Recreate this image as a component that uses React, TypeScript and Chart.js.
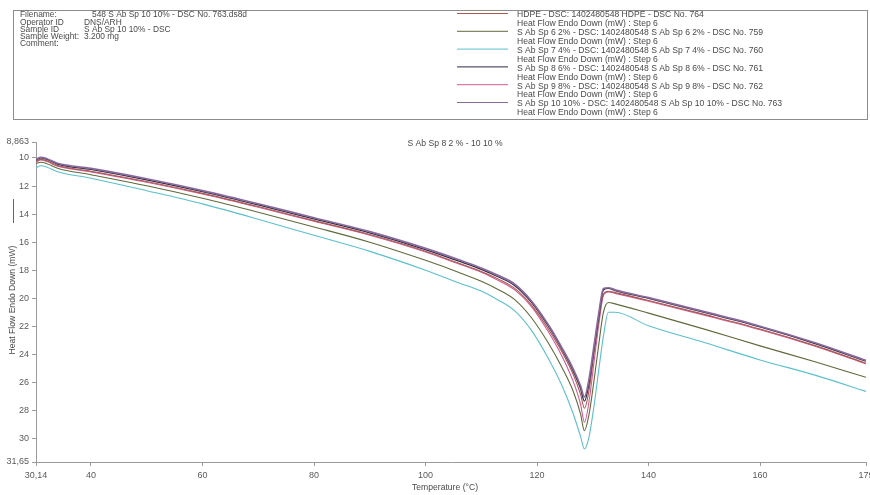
import React, { useEffect, useRef } from "react";
import { Chart, registerables } from "chart.js";

Chart.register(...registerables);

// ---- data (temperature in °C, heat flow in mW) ----
const temperatures = [
  30.14, 31, 32, 34, 40, 50, 60, 70, 80, 90, 100, 106, 110, 113, 116, 119, 122,
  124.5, 126.5, 127.8, 128.5, 129.3, 130.2, 131.1, 131.9, 132.8, 134, 140, 150,
  160, 170, 179,
];

const hdpe = [
  10.25, 10.1, 10.19, 10.53, 10.94, 11.68, 12.52, 13.46, 14.46, 15.45, 16.64,
  17.5, 18.08, 18.61, 19.29, 20.48, 22.16, 23.84, 25.43, 26.82, 27.82, 26.61,
  24.01, 21.5, 19.7, 19.49, 19.59, 20.15, 21.14, 22.18, 23.38, 24.62,
];
const sAbSp6 = [
  10.4, 10.3, 10.39, 10.73, 11.19, 11.98, 12.87, 13.86, 14.91, 16.0, 17.29,
  18.15, 18.78, 19.36, 20.09, 21.38, 23.16, 24.94, 26.63, 28.22, 29.42, 28.31,
  25.91, 23.2, 21.0, 20.29, 20.39, 21.05, 22.19, 23.38, 24.53, 25.62,
];
const sAbSp7 = [
  10.7, 10.55, 10.64, 10.98, 11.44, 12.33, 13.27, 14.36, 15.51, 16.65, 17.99,
  18.9, 19.48, 20.11, 20.89, 22.28, 24.26, 26.24, 28.23, 29.82, 30.72, 29.91,
  27.71, 25.0, 22.7, 20.99, 20.99, 21.95, 23.14, 24.38, 25.48, 26.62,
];
const sAbSp8 = [
  10.15, 9.99, 10.09, 10.43, 10.82, 11.56, 12.4, 13.34, 14.34, 15.33, 16.52,
  17.35, 17.93, 18.46, 19.09, 20.28, 21.96, 23.64, 25.18, 26.42, 27.32, 26.11,
  23.61, 21.2, 19.4, 19.29, 19.44, 20.0, 20.99, 22.03, 23.23, 24.47,
];
const sAbSp9 = [
  10.3, 10.15, 10.24, 10.58, 10.99, 11.73, 12.57, 13.51, 14.51, 15.5, 16.69,
  17.55, 18.13, 18.71, 19.39, 20.58, 22.36, 24.14, 25.93, 27.52, 28.82, 27.41,
  24.61, 21.8, 19.8, 19.54, 19.64, 20.2, 21.19, 22.23, 23.43, 24.67,
];
const sAbSp10 = [
  10.1, 9.95, 10.04, 10.38, 10.74, 11.48, 12.32, 13.26, 14.26, 15.25, 16.44,
  17.25, 17.83, 18.36, 18.99, 20.18, 21.86, 23.54, 25.03, 26.22, 27.02, 25.81,
  23.41, 21.0, 19.3, 19.24, 19.39, 19.95, 20.94, 21.98, 23.18, 24.42,
];

const seriesValues = [hdpe, sAbSp6, sAbSp7, sAbSp8, sAbSp9, sAbSp10];
const seriesNames = [
  "HDPE - DSC: 1402480548 HDPE - DSC No. 764",
  "S Ab Sp 6 2% - DSC: 1402480548 S Ab Sp 6 2% - DSC No. 759",
  "S Ab Sp 7 4% - DSC: 1402480548 S Ab Sp 7 4% - DSC No. 760",
  "S Ab Sp 8 6% - DSC: 1402480548 S Ab Sp 8 6% - DSC No. 761",
  "S Ab Sp 9 8% - DSC: 1402480548 S Ab Sp 9 8% - DSC No. 762",
  "S Ab Sp 10 10% - DSC: 1402480548 S Ab Sp 10 10% - DSC No. 763",
];
const seriesSubtitle = "Heat Flow Endo Down (mW) : Step 6";

const yTickValues = [8.863, 10, 12, 14, 16, 18, 20, 22, 24, 26, 28, 30, 31.65];
const xTickValues = [30.14, 40, 60, 80, 100, 120, 140, 160, 179];

const infoLabels = ["Filename:", "Operator ID", "Sample ID", "Sample Weight:", "Comment:"];
const infoValues = [
  "548 S Ab Sp 10 10% - DSC No. 763.ds8d",
  "DNS/ARH",
  "S Ab Sp 10 10% - DSC",
  "3.200 mg",
  "",
];

const chartTitle = "S Ab Sp 8 2 % - 10 10 %";
const yTitle = "Heat Flow Endo Down (mW)";
const xTitle = "Temperature (°C)";

// ---- styles ----
const seriesColors = ["#a8574f", "#5e6b3c", "#5cbfcc", "#2b2b45", "#d45a92", "#8a6a9c"];
const seriesWidths = [1.1, 1.1, 1.1, 1.3, 1.1, 1.7];
const seriesOrder = [3, 5, 6, 2, 4, 1];
const FONT = '"Liberation Sans", Arial, sans-serif';

const fmt = (v: number) => String(v).replace(".", ",");

const overlayPlugin = {
  id: "overlay",
  beforeDraw(chart: any) {
    const ctx = chart.ctx;
    ctx.save();
    ctx.fillStyle = "#ffffff";
    ctx.fillRect(0, 0, chart.width, chart.height);
    ctx.restore();
  },
  afterDraw(chart: any) {
    const ctx = chart.ctx;
    ctx.save();
    // header box
    ctx.strokeStyle = "#8c8c8c";
    ctx.lineWidth = 1;
    ctx.strokeRect(13.5, 10.5, 854, 109);

    ctx.font = `8.4px ${FONT}`;
    ctx.fillStyle = "#4a4a4a";
    ctx.textBaseline = "middle";
    ctx.textAlign = "left";
    const infoY = [15, 22.5, 29.5, 36.5, 43.5];
    infoLabels.forEach((l, i) => {
      ctx.fillText(l, 20, infoY[i]);
      if (infoValues[i]) ctx.fillText(infoValues[i], i === 0 ? 92 : 84, infoY[i]);
    });

    // legend
    ctx.font = `8.6px ${FONT}`;
    const step = 8.9;
    seriesNames.forEach((name, i) => {
      const y = 15 + i * 2 * step;
      ctx.strokeStyle = seriesColors[i];
      ctx.lineWidth = 1;
      ctx.beginPath();
      ctx.moveTo(457, y - 1.5);
      ctx.lineTo(508, y - 1.5);
      ctx.stroke();
      ctx.fillStyle = "#4a4a4a";
      ctx.fillText(name, 517, y);
      ctx.fillText(seriesSubtitle, 517, y + step);
    });

    // chart title
    ctx.textAlign = "center";
    ctx.fillText(chartTitle, 455, 144);

    // x axis title
    ctx.fillText(xTitle, 445, 488);

    // y axis title
    ctx.save();
    ctx.translate(13, 300);
    ctx.rotate(-Math.PI / 2);
    ctx.fillText(yTitle, 0, 0);
    ctx.restore();
    ctx.strokeStyle = "#666";
    ctx.lineWidth = 1;
    ctx.beginPath();
    ctx.moveTo(13.5, 199);
    ctx.lineTo(13.5, 223);
    ctx.stroke();

    ctx.restore();
  },
};

export default function App() {
  const canvasRef = useRef<HTMLCanvasElement | null>(null);

  useEffect(() => {
    if (!canvasRef.current) return;
    const datasets = seriesValues.map((vals, i) => ({
      label: seriesNames[i],
      data: temperatures.map((t, j) => ({ x: t, y: vals[j] })),
      borderColor: seriesColors[i],
      backgroundColor: seriesColors[i],
      borderWidth: seriesWidths[i],
      pointRadius: 0,
      fill: false,
      cubicInterpolationMode: "monotone" as const,
      order: seriesOrder[i],
    }));

    const chart = new Chart(canvasRef.current, {
      type: "line",
      data: { datasets },
      plugins: [overlayPlugin],
      options: {
        animation: false,
        responsive: false,
        maintainAspectRatio: false,
        devicePixelRatio: 1,
        layout: { padding: { top: 142, right: 4, left: 0, bottom: 0 } },
        plugins: {
          legend: { display: false },
          tooltip: { enabled: false },
          title: { display: false },
        },
        elements: { point: { radius: 0 } },
        scales: {
          x: {
            type: "linear",
            min: 30.14,
            max: 179,
            afterBuildTicks: (axis: any) => {
              axis.ticks = xTickValues.map((v) => ({ value: v }));
            },
            afterFit: (s: any) => {
              s.height = 33;
              s.paddingLeft = 0;
              s.paddingRight = 0;
            },
            grid: { drawOnChartArea: false, tickLength: 4, color: "#9a9a9a" },
            border: { color: "#9a9a9a" },
            ticks: {
              autoSkip: false,
              maxRotation: 0,
              color: "#5a5a5a",
              font: { size: 9, family: FONT },
              padding: 4,
              callback: (v: any) => fmt(Number(v)),
            },
          },
          y: {
            type: "linear",
            reverse: true,
            min: 8.863,
            max: 31.65,
            afterBuildTicks: (axis: any) => {
              axis.ticks = yTickValues.map((v) => ({ value: v }));
            },
            afterFit: (s: any) => {
              s.width = 36;
              s.paddingTop = 0;
              s.paddingBottom = 0;
            },
            grid: { drawOnChartArea: false, tickLength: 4, color: "#9a9a9a" },
            border: { color: "#9a9a9a" },
            ticks: {
              autoSkip: false,
              color: "#5a5a5a",
              font: { size: 9, family: FONT },
              padding: 3,
              callback: (v: any) => fmt(Number(v)),
            },
          },
        },
      },
    });
    return () => chart.destroy();
  }, []);

  return (
    <div style={{ position: "fixed", left: 0, top: 0, width: 870, height: 495, background: "#fff" }}>
      <canvas ref={canvasRef} width={870} height={495} style={{ width: 870, height: 495, display: "block" }} />
    </div>
  );
}
